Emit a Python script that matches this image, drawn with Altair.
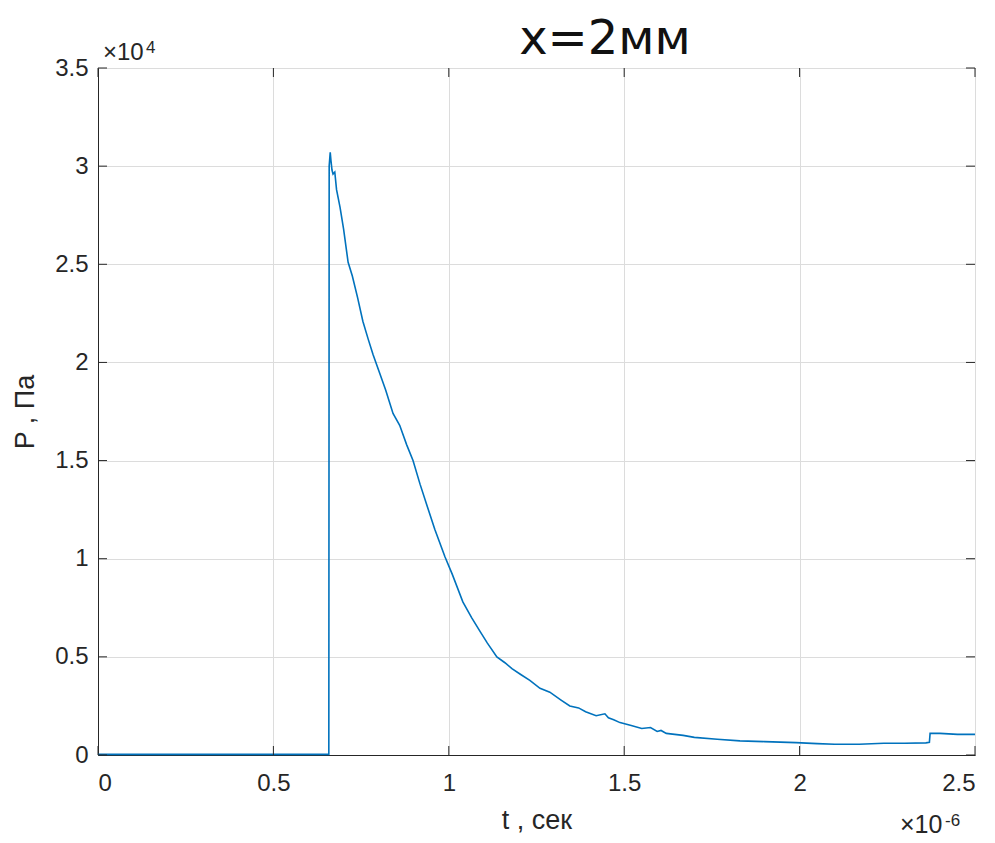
import altair as alt
import pandas as pd

# time in units of 1e-6 s, pressure in units of 1e4 Pa
t_us = [0.0, 0.30, 0.658, 0.659, 0.662, 0.664, 0.667, 0.670, 0.675, 0.680,
        0.690, 0.700, 0.713, 0.725, 0.740, 0.755, 0.770, 0.784, 0.800, 0.820,
        0.841, 0.860, 0.880, 0.898, 0.918, 0.938, 0.960, 0.989, 1.010, 1.040,
        1.065, 1.089, 1.110, 1.137, 1.160, 1.180, 1.205, 1.231, 1.260, 1.288,
        1.320, 1.345, 1.370, 1.390, 1.420, 1.445, 1.455, 1.470, 1.488, 1.520,
        1.550, 1.575, 1.594, 1.605, 1.620, 1.668, 1.700, 1.765, 1.830, 1.900,
        1.990, 2.050, 2.100, 2.170, 2.240, 2.300, 2.360, 2.370, 2.372, 2.400,
        2.450, 2.500]
p_1e4 = [0.003, 0.003, 0.003, 3.00, 3.07, 3.03, 2.98, 2.96, 2.97, 2.88,
         2.79, 2.68, 2.51, 2.44, 2.33, 2.21, 2.12, 2.04, 1.96, 1.86,
         1.74, 1.68, 1.58, 1.50, 1.38, 1.27, 1.15, 1.01, 0.92, 0.78,
         0.70, 0.63, 0.57, 0.50, 0.47, 0.44, 0.41, 0.38, 0.34, 0.32,
         0.28, 0.25, 0.24, 0.22, 0.20, 0.21, 0.19, 0.18, 0.165, 0.15,
         0.135, 0.14, 0.12, 0.125, 0.11, 0.10, 0.09, 0.08, 0.072, 0.068,
         0.063, 0.058, 0.055, 0.055, 0.060, 0.060, 0.062, 0.065, 0.110, 0.110,
         0.105, 0.105]

x_ticks = [0, 0.5, 1, 1.5, 2, 2.5]
y_ticks = [0, 0.5, 1, 1.5, 2, 2.5, 3, 3.5]

title_text = "x=2мм"
x_title = "t , сек"
y_title = "P , Па"

W, H = 877, 687
TICK = 9
DARK = "#262626"

df = pd.DataFrame({"t": t_us, "P": p_1e4})
xt = pd.DataFrame({"t": x_ticks})
yt = pd.DataFrame({"P": y_ticks})
one = pd.DataFrame({"a": [0]})

xscale = alt.Scale(domain=[0, 2.5], nice=False, zero=False)
yscale = alt.Scale(domain=[0, 3.5], nice=False, zero=False)

xaxis = alt.Axis(values=x_ticks, format="~g", title=x_title,
                 labelPadding=16, titlePadding=12)
yaxis = alt.Axis(values=y_ticks, format="~g", title=y_title,
                 labelPadding=10, titlePadding=15)

line = alt.Chart(df).mark_line(color="#0072BD", strokeWidth=1.6).encode(
    x=alt.X("t:Q", scale=xscale, axis=xaxis),
    y=alt.Y("P:Q", scale=yscale, axis=yaxis),
)

tick_bot = alt.Chart(xt).mark_rule(color=DARK, strokeWidth=1).encode(
    x=alt.X("t:Q", scale=xscale, axis=xaxis), y=alt.value(H), y2=alt.value(H - TICK))
tick_top = alt.Chart(xt).mark_rule(color=DARK, strokeWidth=1).encode(
    x=alt.X("t:Q", scale=xscale, axis=xaxis), y=alt.value(0), y2=alt.value(TICK))
tick_left = alt.Chart(yt).mark_rule(color=DARK, strokeWidth=1).encode(
    y=alt.Y("P:Q", scale=yscale, axis=yaxis), x=alt.value(0), x2=alt.value(TICK))
tick_right = alt.Chart(yt).mark_rule(color=DARK, strokeWidth=1).encode(
    y=alt.Y("P:Q", scale=yscale, axis=yaxis), x=alt.value(W), x2=alt.value(W - TICK))


def txt(s, x, y, size, color=DARK, font="Liberation Sans", align="left"):
    return alt.Chart(one).mark_text(text=s, fontSize=size, font=font, color=color,
                                    align=align, baseline="alphabetic").encode(
        x=alt.value(x), y=alt.value(y))


title = txt(title_text, 507, -14, 48, color="#111111", font="DejaVu Sans", align="center")
exp_y_base = txt("×10", 5, -8, 24)
exp_y_sup = txt("4", 48, -15, 17)
exp_x_base = txt("×10", 802, 765, 25)
exp_x_sup = txt("-6", 847, 758, 17)

chart = alt.layer(
    line, tick_bot, tick_top, tick_left, tick_right,
    title, exp_y_base, exp_y_sup, exp_x_base, exp_x_sup,
).properties(
    width=W, height=H,
    autosize=alt.AutoSizeParams(type="none"),
    padding={"left": 90, "top": 60, "right": 10, "bottom": 86},
    background="white",
).configure_view(
    stroke=DARK, strokeWidth=1,
).configure_axis(
    domainColor=DARK, domainWidth=1, tickSize=0,
    gridColor="#dcdcdc", gridWidth=1,
    labelFont="Liberation Sans", labelFontSize=24, labelColor=DARK,
    titleFont="Liberation Sans", titleFontSize=27, titleColor=DARK,
    titleFontWeight="normal",
)

chart.save("out.html", embed_options={"renderer": "svg", "actions": False})
